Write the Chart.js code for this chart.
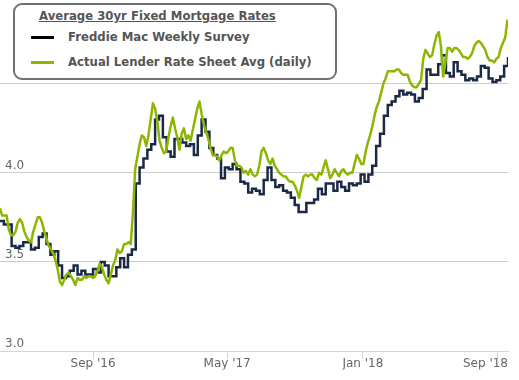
<!DOCTYPE html>
<html>
<head>
<meta charset="utf-8">
<script src="https://cdn.jsdelivr.net/npm/chart.js@4.4.1/dist/chart.umd.min.js"></script>
<style>
  html, body { margin: 0; padding: 0; background: #fff; }
  #wrap { position: relative; width: 519px; height: 380px; }
  #legend {
    position: absolute; left: 13px; top: 3px; width: 320px; height: 73px;
    border: 2px solid #707070; border-radius: 9px; background: #fff;
    font-family: "DejaVu Sans", sans-serif; font-weight: bold; font-size: 11.7px; color: #555;
  }
  #legend .row { position: absolute; height: 16px; line-height: 16px; white-space: nowrap; }
  #legend .title { left: 24px; top: 3px; text-decoration: underline; }
  #legend .swatch { position: absolute; left: 16px; top: 7px; width: 23px; height: 3px; }
  #legend .label { position: absolute; left: 53px; top: 0; }
</style>
</head>
<body>
<div id="wrap">
  <canvas id="grafico" width="519" height="380"></canvas>
  <div id="legend">
    <div class="row title">Average 30yr Fixed Mortgage Rates</div>
    <div class="row" style="top:24px;left:0;width:100%"><span class="swatch" style="background:#000"></span><span class="label">Freddie Mac Weekly Survey</span></div>
    <div class="row" style="top:49px;left:0;width:100%"><span class="swatch" style="background:#8db600"></span><span class="label">Actual Lender Rate Sheet Avg (daily)</span></div>
  </div>
</div>
<script>
// Periodo do grafico
const startDate = '2016-03-17';
const endDate = '2018-09-20';

// Rotulos do eixo x
const tickDates = ['2016-09-01', '2017-05-01', '2018-01-01', '2018-09-01'];
const tickLabels = ["Sep '16", "May '17", "Jan '18", "Sep '18"];

// Freddie Mac - um valor por semana a partir de startDate
const freddieWeekly = [
    3.73, 3.71, 3.71, 3.59, 3.58, 3.59, 3.61, 3.61, 3.57, 3.58, 3.64, 3.66, 3.60, 3.54,
    3.56, 3.48, 3.41, 3.42, 3.45, 3.48, 3.43, 3.45, 3.43, 3.43, 3.46, 3.44, 3.50, 3.48,
    3.42, 3.42, 3.47, 3.52, 3.47, 3.54, 3.57, 3.94, 4.03, 4.08, 4.13, 4.16, 4.30, 4.32,
    4.20, 4.12, 4.09, 4.19, 4.19, 4.17, 4.15, 4.16, 4.10, 4.21, 4.30, 4.23, 4.14, 4.10,
    4.08, 3.97, 4.03, 4.02, 4.05, 4.02, 3.95, 3.94, 3.89, 3.91, 3.90, 3.88, 3.96, 4.03,
    3.96, 3.92, 3.93, 3.90, 3.89, 3.86, 3.82, 3.78, 3.78, 3.83, 3.83, 3.85, 3.91, 3.88,
    3.94, 3.94, 3.90, 3.95, 3.92, 3.90, 3.94, 3.93, 3.94, 3.99,
    3.95, 3.99, 4.04, 4.15, 4.22, 4.32, 4.38, 4.40, 4.43, 4.46, 4.44, 4.45, 4.44, 4.40,
    4.42, 4.47, 4.58, 4.55, 4.55, 4.61, 4.66, 4.56, 4.54, 4.62, 4.57, 4.55, 4.52, 4.53,
    4.52, 4.54, 4.60, 4.59, 4.53, 4.51, 4.52, 4.54, 4.60, 4.65
];

// Media das tabelas dos credores - lida a cada 4 dias a partir de startDate
const lenderStepDays = 4;
const lenderDaily = [
    3.80, 3.76, 3.76, 3.76, 3.68, 3.65, 3.65, 3.67, 3.72, 3.74,
    3.72, 3.67, 3.64, 3.62, 3.61, 3.67, 3.71, 3.75, 3.75, 3.72,
    3.67, 3.63, 3.59, 3.57, 3.55, 3.51, 3.46, 3.39, 3.37, 3.40,
    3.43, 3.44, 3.42, 3.40, 3.37, 3.41, 3.40, 3.40, 3.42, 3.41,
    3.42, 3.42, 3.41, 3.42, 3.45, 3.49, 3.47, 3.43, 3.40, 3.38,
    3.43, 3.48, 3.51, 3.57, 3.55, 3.56, 3.60, 3.60, 3.61, 3.60,
    3.78, 4.02, 4.09, 4.16, 4.21, 4.20, 4.15, 4.21, 4.30, 4.39,
    4.36, 4.29, 4.18, 4.14, 4.11, 4.12, 4.20, 4.26, 4.31, 4.25,
    4.20, 4.13, 4.22, 4.25, 4.19, 4.21, 4.18, 4.24, 4.30, 4.36,
    4.40, 4.33, 4.27, 4.23, 4.19, 4.14, 4.10, 4.10, 4.09, 4.07,
    4.10, 4.12, 4.11, 4.12, 4.14, 4.14, 4.07, 4.04, 4.04, 4.03,
    4.00, 4.01, 3.99, 4.02, 3.99, 3.98, 3.99, 4.04, 4.12, 4.14,
    4.11, 4.07, 4.05, 4.08, 4.04, 4.02, 4.00, 3.99, 3.98, 3.98,
    3.96, 3.95, 3.95, 3.93, 3.90, 3.86, 3.92, 3.98, 3.99, 3.98,
    3.99, 3.99, 3.97, 3.96, 4.00, 3.99, 4.03, 4.07, 4.02, 3.97,
    3.99, 4.02, 4.00, 3.98, 4.01, 4.02, 4.00, 3.99, 4.00, 4.00,
    4.05, 4.10, 4.08, 4.05, 4.05, 4.12, 4.17, 4.21, 4.26, 4.32,
    4.37, 4.40, 4.45, 4.50, 4.53, 4.57, 4.57, 4.57, 4.57, 4.58,
    4.58, 4.56, 4.55, 4.55, 4.55, 4.51, 4.49, 4.48, 4.48, 4.50,
    4.52, 4.64, 4.69, 4.67, 4.65, 4.66, 4.72, 4.77, 4.79, 4.71,
    4.54, 4.62, 4.70, 4.70, 4.68, 4.70, 4.70, 4.69, 4.67, 4.65,
    4.65, 4.64, 4.65, 4.67, 4.71, 4.73, 4.74, 4.73, 4.71, 4.69,
    4.65, 4.63, 4.63, 4.62, 4.64, 4.65, 4.70, 4.73, 4.76, 4.86
];

// rotulos do eixo y que ficam atras da legenda
const yHiddenAbove = 4.4;

function dayOf(d) {
    return (Date.parse(d) - Date.parse(startDate)) / 864e5;
}

const xMax = dayOf(endDate);
const xTickDays = tickDates.map(dayOf);

function xLabel(v) {
    // o ultimo rotulo fica alinhado a direita no fim do eixo
    if (v === xMax) return tickLabels[tickLabels.length - 1];
    const k = xTickDays.indexOf(v);
    if (k >= 0 && k < tickLabels.length - 1) return tickLabels[k];
    return '';
}

const axisFont = { family: 'DejaVu Sans', size: 12 };

window.onload = function() {
    const ctx = document.getElementById('grafico').getContext('2d');
    new Chart(ctx, {
        type: 'line',
        data: {
            datasets: [{
                label: 'Freddie Mac Weekly Survey',
                data: freddieWeekly.map((v, i) => ({ x: i * 7, y: v })),
                borderColor: '#1b2a44',
                borderWidth: 2.5,
                stepped: true,
                pointRadius: 0,
                order: 1
            }, {
                label: 'Actual Lender Rate Sheet Avg (daily)',
                data: lenderDaily.map((v, i) => ({ x: i * lenderStepDays, y: v })),
                borderColor: '#8db600',
                borderWidth: 2.5,
                borderJoinStyle: 'round',
                pointRadius: 0,
                tension: 0,
                order: 0
            }]
        },
        options: {
            responsive: false,
            animation: false,
            devicePixelRatio: 1,
            layout: { padding: { left: 0, right: 11, top: 0, bottom: 10.6 } },
            plugins: { legend: { display: false }, tooltip: { enabled: false } },
            scales: {
                x: {
                    type: 'linear',
                    min: 0,
                    max: xMax,
                    afterBuildTicks: s => {
                        s.ticks = [0, ...xTickDays, xMax].map(v => ({ value: v }));
                    },
                    afterFit: s => { s.paddingLeft = 0; s.paddingRight = 0; },
                    ticks: {
                        autoSkip: false,
                        maxRotation: 0,
                        align: 'inner',
                        padding: -2,
                        color: '#666',
                        font: axisFont,
                        callback: v => xLabel(v)
                    },
                    grid: {
                        drawOnChartArea: false,
                        tickLength: 8,
                        tickColor: c => (c.tick && (c.tick.value === 0 || c.tick.value === xMax)) ? 'rgba(0,0,0,0)' : '#ccd6eb'
                    },
                    border: { color: '#ccd6eb' }
                },
                y: {
                    min: 3,
                    max: 4.97,
                    afterFit: s => { s.width = 0; s.paddingTop = 0; s.paddingBottom = 0; },
                    ticks: {
                        stepSize: 0.5,
                        includeBounds: false,
                        mirror: true,
                        padding: 5,
                        labelOffset: -7,
                        color: c => (c.tick && c.tick.value > yHiddenAbove) ? 'rgba(0,0,0,0)' : '#666',
                        font: axisFont,
                        callback: v => v.toFixed(1)
                    },
                    grid: {
                        drawTicks: false,
                        color: c => (c.tick && c.tick.value === 3) ? 'rgba(0,0,0,0)' : '#cccccc'
                    },
                    border: { display: false }
                }
            }
        }
    });
};
</script>
</body>
</html>
